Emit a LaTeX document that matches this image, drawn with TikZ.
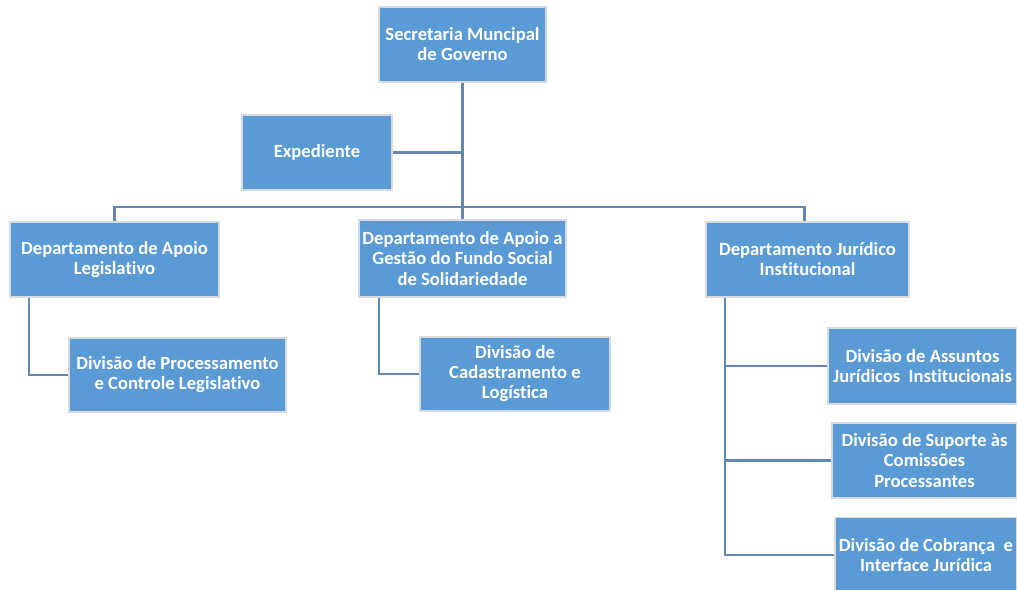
\documentclass[tikz,border=0pt]{standalone}
\usepackage{fontspec}
\setmainfont[Ligatures=NoCommon]{Carlito}
\usepackage{tikz}
\usetikzlibrary{calc,positioning}
\definecolor{boxblue}{HTML}{5B9BD5}
\definecolor{linkblue}{RGB}{100,136,178}
\definecolor{rimgray}{RGB}{215,218,222}

\begin{document}
\begin{tikzpicture}[x=0.02cm,y=-0.02cm,
              unit/.style={draw=rimgray,line width=0.8pt,fill=boxblue,text=white,
                  align=center,inner sep=1pt,
                  font=\fontsize{10.6}{11.4}\selectfont\bfseries},
              link/.style={draw=linkblue,line width=1.2pt}
            ]
            \clip (0,0) rectangle (1017,589);
            \fill[white] (0,0) rectangle (1017,589);
            % topo
            \node[unit,minimum width=3.34cm,minimum height=1.5cm] (sec) at (462.5,44.5)
              {Secretaria Muncipal\\de Governo};
            \node[unit,minimum width=3cm,minimum height=1.5cm] (exp) at (317,152.5)
              {Expediente};
            % departamentos
            \node[unit,minimum width=4.18cm,minimum height=1.5cm] (dep1) at (114.5,259.5)
              {Departamento de Apoio\\Legislativo};
            \node[unit,minimum width=4.14cm,minimum height=1.54cm] (dep2) at (462.5,258.5)
              {Departamento de Apoio a\\Gestão do Fundo Social\\de Solidariedade};
            \node[unit,minimum width=4.06cm,minimum height=1.5cm] (dep3) at (807.5,259.5)
              {Departamento Jurídico\\Institucional};
            % divisoes
            \node[unit,minimum width=4.34cm,minimum height=1.48cm] (div1) at (177.5,375)
              {Divisão de Processamento\\e Controle Legislativo};
            \node[unit,minimum width=3.8cm,minimum height=1.48cm] (div2) at (515,374)
              {Divisão de\\Cadastramento e\\Logística};
            \node[unit,minimum width=3.78cm,minimum height=1.52cm] (jur1) at (922.5,366)
              {Divisão de Assuntos\\Jurídicos~ Institucionais};
            \node[unit,minimum width=3.7cm,minimum height=1.5cm] (jur2) at (924.5,460.5)
              {Divisão de Suporte às\\Comissões\\Processantes};
            \node[unit,minimum width=3.64cm,minimum height=1.5cm] (jur3) at (926,555)
              {Divisão de Cobrança~ e\\Interface Jurídica};
            % ligacoes
            \coordinate (bus) at (462.5,207);
            \draw[link] (sec.south) -- (dep2.north);
            \draw[link] (exp.east) -- (exp.east -| sec.south);
            \draw[link] (dep1.north) |- (bus) -| ([xshift=-0.06cm]dep3.north);
            \draw[link] ([xshift=0.4cm]dep1.south west) |- (div1.west);
            \draw[link] ([xshift=0.42cm]dep2.south west) |- (div2.west);
            \draw[link] ([xshift=0.4cm]dep3.south west) |- (jur3.west);
            \draw[link] ([xshift=0.4cm]dep3.south west) |- (jur1.west);
            \draw[link] ([xshift=0.4cm]dep3.south west) |- (jur2.west);
          \end{tikzpicture}
\end{document}
